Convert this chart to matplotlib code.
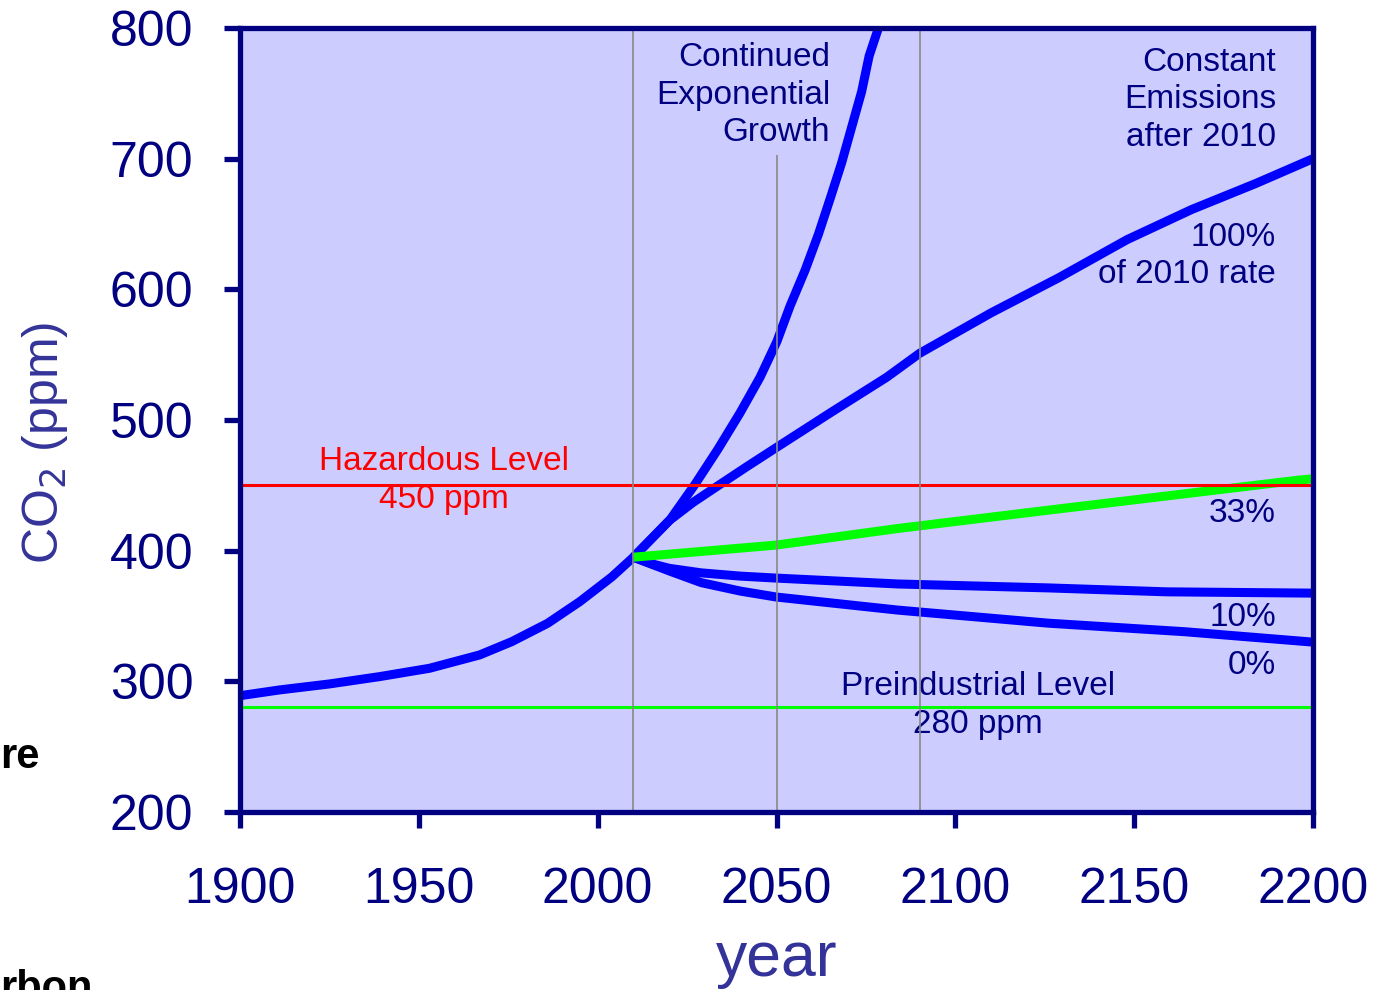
import matplotlib
matplotlib.use("Agg")
import matplotlib.pyplot as plt

plt.rcParams['font.family'] = ['Liberation Sans', 'DejaVu Sans']

# ---- data ----
hist_years = [1900, 1911, 1925, 1939, 1953, 1967, 1976, 1986, 1995, 2004, 2010]
hist_ppm = [289, 293.4, 298, 303.6, 310, 320.2, 330.4, 344.4, 361, 380, 395]

exp_years = [2010, 2020.2, 2027.2, 2033.7, 2039.8, 2045.4, 2050.1, 2053.8, 2058,
             2061.7, 2065, 2068.2, 2071, 2073.8, 2075.9, 2078.5, 2080]
exp_ppm = [395, 423.5, 450.7, 478, 505.4, 532.7, 560, 587.3, 614.7,
           642, 669.4, 696.7, 724, 751.3, 778.6, 800, 812]

full_years = [2010, 2020, 2026.7, 2034.2, 2041.7, 2050, 2065, 2080.8, 2090, 2110,
              2129, 2148, 2166, 2184, 2200]
full_ppm = [395, 423, 437, 450.7, 464.3, 479, 505.4, 532.7, 551, 582,
            609, 638, 661, 681, 700]

p33_years = [2010, 2050, 2084, 2126, 2196, 2200]
p33_ppm = [395, 404.3, 417, 431, 454, 455]

p10_years = [2010, 2015, 2020, 2029, 2040, 2050, 2084, 2126, 2159, 2200]
p10_ppm = [395, 390, 386.5, 383, 380.5, 379, 374.5, 371.5, 368.5, 367.5]

p0_years = [2010, 2020, 2029, 2040, 2050, 2084, 2126, 2164, 2200]
p0_ppm = [395, 384.5, 375.5, 369, 364.5, 354.5, 344.5, 338, 330]

hazard_level = 450
preind_level = 280
marker_years = [2010, 2050, 2090]

x_ticks = [1900, 1950, 2000, 2050, 2100, 2150, 2200]
y_ticks = [200, 300, 400, 500, 600, 700, 800]

NAVY = '#000080'
SLATE = '#333399'

fig = plt.figure(figsize=(13.85, 9.9), dpi=100)
ax = fig.add_axes([240/1385, 1 - 812/990, (1313-240)/1385, (812-28)/990])
ax.set_facecolor('#CCCCFF')
ax.set_xlim(1900, 2200)
ax.set_ylim(200, 800)

lw = 6.5
kw = dict(lw=lw, zorder=3, solid_capstyle='butt', solid_joinstyle='round')
ax.plot(hist_years, hist_ppm, color='#0000FF', **kw)
ax.plot(exp_years, exp_ppm, color='#0000FF', **kw)
ax.plot(full_years, full_ppm, color='#0000FF', **kw)
ax.plot(p10_years, p10_ppm, color='#0000FF', **kw)
ax.plot(p0_years, p0_ppm, color='#0000FF', **kw)
ax.plot(p33_years, p33_ppm, color='#00FF00', **kw)

ax.axhline(hazard_level, color='#FF0000', lw=2.2, zorder=4)
ax.axhline(preind_level, color='#00FF00', lw=2.2, zorder=4)

# gray vertical lines (drawn on top)
ax.vlines(marker_years[0], 200, 800, color='#888888', lw=1.2, zorder=6)
ax.vlines(marker_years[1], 200, 703, color='#888888', lw=1.2, zorder=6)
ax.vlines(marker_years[2], 200, 800, color='#888888', lw=1.2, zorder=6)

for s in ax.spines.values():
    s.set_color(NAVY)
    s.set_linewidth(3.8)
    s.set_zorder(7)

ax.set_xticks(x_ticks)
ax.set_yticks(y_ticks)
ax.tick_params(axis='both', direction='out', length=11.5, width=3.8, color=NAVY,
               labelcolor=NAVY, labelsize=36)
ax.tick_params(axis='y', pad=22)
ax.tick_params(axis='x', pad=28)

ax.set_xlabel('year', fontsize=45, color=SLATE, labelpad=12)
ax.set_ylabel('CO$_2$ (ppm)', fontsize=36, color=SLATE)
ax.yaxis.set_label_coords(-0.158, 0.4707)

tk = dict(color=NAVY, fontsize=24, zorder=5, linespacing=1.27)
ax.text(2065, 748.7, 'Continued\nExponential\nGrowth', ha='right', va='center', **tk)
ax.text(2189.7, 744.9, 'Constant\nEmissions\nafter 2010', ha='right', va='center', **tk)
ax.text(2189.7, 625.5, '100%\nof 2010 rate', ha='right', va='center', **tk)
ax.text(2189.7, 428.4, '33%', ha='right', va='center', **tk)
ax.text(2189.7, 348.9, '10%', ha='right', va='center', **tk)
ax.text(2189.7, 312.5, '0%', ha='right', va='center', **tk)
ax.text(2106.3, 281.5, 'Preindustrial Level\n280 ppm', ha='center', va='center', **tk)
ax.text(1957, 453.7, 'Hazardous Level\n450 ppm', ha='center', va='center',
        color='#FF0000', fontsize=24, zorder=5, linespacing=1.27)

# fragments of surrounding slide text
fig.text(0.0, 1 - 768/990, 're', ha='left', va='baseline', fontsize=30,
         fontweight='bold', color='black')
fig.text(0.0, 1 - 1000/990, 'rbon', ha='left', va='baseline', fontsize=30,
         fontweight='bold', color='black')

fig.savefig('out.png', dpi=100)
